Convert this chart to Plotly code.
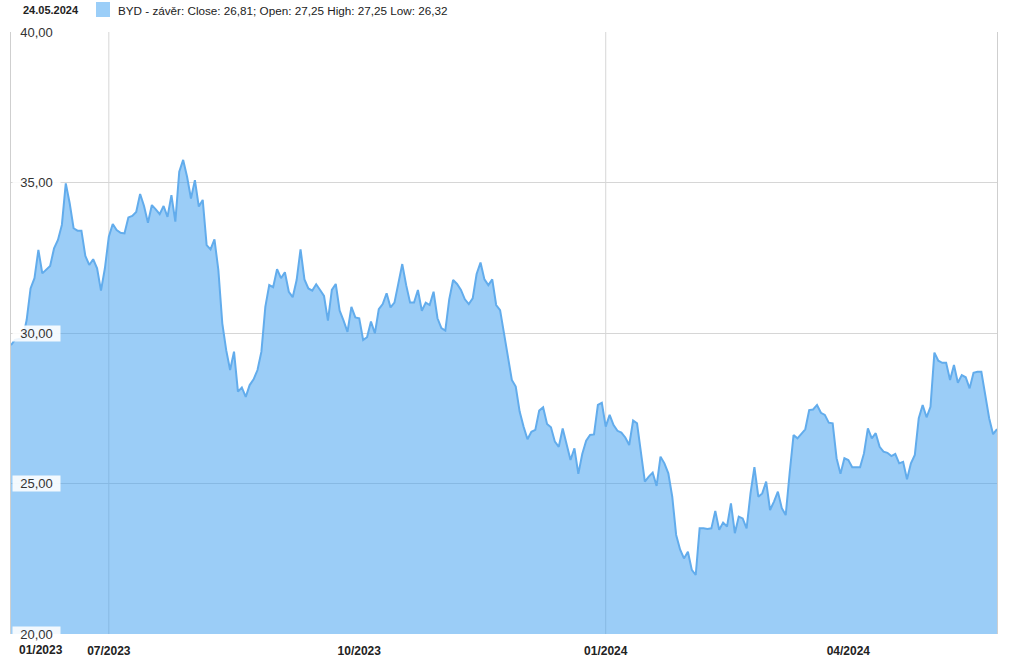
import plotly.graph_objects as go

# BYD daily close, one value per trading day (24.05.2023 - 24.05.2024)
close = [
    29.6, 29.77, 29.8, 29.82, 30.43, 31.48, 31.82, 32.76, 31.98, 32.09,
    32.23, 32.81, 33.09, 33.59, 34.97, 34.31, 33.48, 33.40, 33.40, 32.56,
    32.26, 32.45, 32.15, 31.41, 32.15, 33.20, 33.62, 33.42, 33.33, 33.31,
    33.84, 33.89, 34.02, 34.62, 34.22, 33.66, 34.25, 34.11, 33.95, 34.22,
    33.86, 34.58, 33.70, 35.36, 35.75, 35.19, 34.47, 35.08, 34.20, 34.42,
    32.92, 32.78, 33.11, 32.09, 30.32, 29.43, 28.77, 29.38, 28.05, 28.19,
    27.88, 28.27, 28.46, 28.77, 29.38, 30.87, 31.59, 31.52, 32.12, 31.82,
    32.02, 31.37, 31.19, 31.76, 32.78, 31.78, 31.48, 31.41, 31.62, 31.43,
    31.23, 30.41, 31.43, 31.63, 30.74, 30.41, 30.04, 30.87, 30.52, 30.49,
    29.77, 29.86, 30.38, 29.99, 30.79, 30.96, 31.32, 30.85, 31.01, 31.65,
    32.29,
    31.59, 31.01, 31.01, 31.43, 30.74, 31.01, 30.93, 31.37, 30.49, 30.16,
    30.08, 31.12, 31.76, 31.63, 31.43, 31.12, 30.96, 31.15, 31.96, 32.34,
    31.78, 31.59, 31.78, 30.93, 30.76, 29.99, 29.10, 28.44, 28.22, 27.39,
    26.89, 26.47, 26.72, 26.78, 27.42, 27.53, 26.98, 26.87, 26.39, 26.22,
    26.83, 26.28, 25.78, 26.17, 25.32, 25.98, 26.42, 26.61, 26.63, 27.61,
    27.68, 26.89, 27.28,
    26.94, 26.75, 26.69, 26.53, 26.28, 27.09, 27.00, 26.11, 25.06, 25.23,
    25.36, 24.92, 25.89, 25.67, 25.34, 24.56, 23.29, 22.81, 22.51, 22.73,
    22.13, 21.96, 23.51, 23.51, 23.49, 23.51, 24.09, 23.46, 23.70, 23.57,
    24.34, 23.35, 23.90, 23.84, 23.51, 24.67, 25.54, 24.56, 24.67, 25.06,
    24.12, 24.40, 24.73, 24.18, 23.95, 25.34, 26.61, 26.50, 26.64, 26.80,
    27.44,
    27.46, 27.61, 27.35, 27.28, 27.02, 27.00, 25.84, 25.32, 25.84, 25.78,
    25.54, 25.54, 25.54, 26.00, 26.83, 26.50, 26.67, 26.22, 26.06, 26.02,
    25.91, 25.98, 25.67, 25.72, 25.14, 25.67, 25.95, 27.17, 27.61, 27.20,
    27.55, 29.35, 29.08, 29.01, 29.01, 28.44, 28.94, 28.35, 28.60, 28.53,
    28.16, 28.68, 28.71, 28.71, 27.94, 27.17, 26.64, 26.81,
]
days = list(range(len(close)))

# first trading day of each labelled month (index into the series)
month_idx = [25, 89, 152, 214]
month_labels = ["07/2023", "10/2023", "01/2024", "04/2024"]
half_year_idx = [25, 152]   # vertical grid lines

y_ticks = [20, 25, 30, 35, 40]

header_date = "24.05.2024"
header_text = "BYD - závěr: Close: 26,81; Open: 27,25 High: 27,25 Low: 26,32"

FONT = "Arial, Liberation Sans, sans-serif"
GRID = "#d6d6d6"

fig = go.Figure()
fig.add_trace(go.Scatter(
    x=days, y=close, mode="lines",
    line=dict(color="rgb(98,172,236)", width=2),
    fill="tozeroy", fillcolor="rgba(56,156,240,0.5)",
    hoverinfo="y", showlegend=False,
))

for i in half_year_idx:
    fig.add_vline(x=i, line=dict(color=GRID, width=1), layer="below")

# y labels sit inside the plot on white boxes
for v in y_ticks:
    fig.add_annotation(
        xref="paper", x=0, xanchor="left", xshift=1,
        yref="y", y=v, yanchor="middle",
        text="&nbsp;&nbsp;" + f"{v:.2f}".replace(".", ",") + "&nbsp;&nbsp;",
        showarrow=False, bgcolor="rgba(255,255,255,0.88)", borderpad=0,
        font=dict(family=FONT, size=13, color="#333333"),
    )

# first x label, pinned to the left edge
fig.add_annotation(
    xref="paper", x=0, xanchor="left", xshift=6,
    yref="paper", y=0, yanchor="top", yshift=-7,
    text="<b>01/2023</b>", showarrow=False,
    font=dict(family=FONT, size=12, color="#222222"),
)

# header: date, swatch, series description
fig.add_annotation(
    xref="paper", x=0.0101, xanchor="left",
    yref="paper", y=1.0365, yanchor="middle",
    text="<b>" + header_date + "</b>", showarrow=False,
    font=dict(family=FONT, size=11, color="#222222"),
)
fig.add_shape(
    type="rect", xref="paper", yref="paper",
    x0=0.0862, x1=0.1004, y0=1.0249, y1=1.0498,
    fillcolor="rgb(155,206,248)", line=dict(width=0),
)
fig.add_annotation(
    xref="paper", x=0.1065, xanchor="left",
    yref="paper", y=1.0365, yanchor="middle",
    text=header_text, showarrow=False,
    font=dict(family=FONT, size=11.7, color="#222222"),
)

fig.update_layout(
    width=1018, height=664,
    margin=dict(l=11, r=21, t=32, b=30, autoexpand=False),
    paper_bgcolor="white", plot_bgcolor="white",
    font=dict(family=FONT, size=12, color="#222222"),
)
fig.update_xaxes(
    range=[days[0], days[-1]], showgrid=False, zeroline=False,
    tickvals=month_idx, ticktext=["<b>" + t + "</b>" for t in month_labels],
    ticks="", showline=False, ticklabelstandoff=8, automargin=False,
    tickfont=dict(family=FONT, size=12, color="#222222"),
)
fig.update_yaxes(
    range=[20, 40], tickvals=y_ticks, showticklabels=False,
    gridcolor=GRID, gridwidth=1, zeroline=False,
    showline=True, mirror=True, linecolor="#cfcfcf", linewidth=1,
)

# drop the default 8px page margin so the figure sits at the window corner
fig.write_html(
    "out.html",
    config={"displayModeBar": False},
    post_script="document.body.style.margin='0';",
)
